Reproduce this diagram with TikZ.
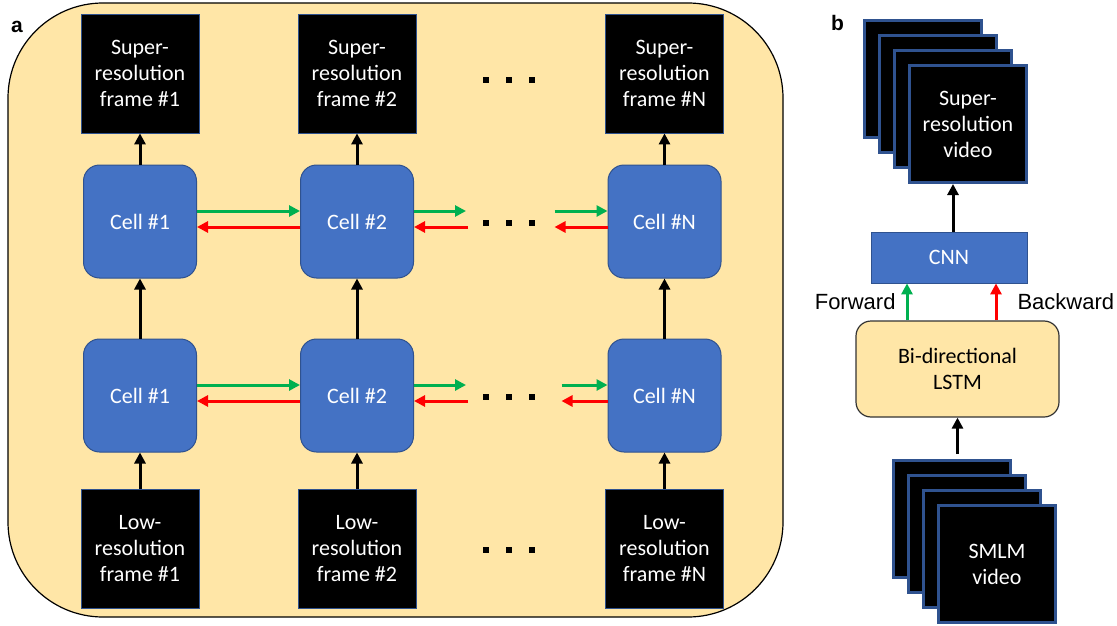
\documentclass[tikz,border=0pt]{standalone}
\usepackage{fontspec}
\setmainfont{Carlito}
\newfontfamily\arialfont{Liberation Sans}
\usetikzlibrary{arrows.meta,positioning}
\definecolor{panelyellow}{RGB}{255,230,167}
\definecolor{cellblue}{RGB}{68,114,196}
\definecolor{edgeblue}{RGB}{47,82,143}
\definecolor{fwdgreen}{RGB}{0,176,80}
\definecolor{bwdred}{RGB}{255,0,0}

\begin{document}
\begin{tikzpicture}[x=1pt,y=-1pt,
    txt/.style={font=\fontsize{22}{26}\selectfont},
    frameblk/.style={txt, fill=black, draw=edgeblue, line width=0.8pt, text=white, align=center,
        minimum width=118pt, minimum height=119pt, inner sep=0pt},
    cellbox/.style={txt, fill=cellblue, draw=edgeblue, line width=1pt, rounded corners=16pt,
        text=white, minimum size=113pt, inner sep=0pt},
    vidframe/.style={txt, fill=black, draw=edgeblue, line width=3pt, text=white, align=center,
        minimum size=117pt, inner sep=0pt},
    cnnbox/.style={txt, fill=cellblue, draw=edgeblue, line width=0.8pt, text=white,
        minimum width=156pt, minimum height=51pt, inner sep=0pt},
    lstmbox/.style={txt, fill=panelyellow, draw=black!80, line width=1.2pt, rounded corners=15pt,
        align=center, minimum width=203pt, minimum height=96pt, inner sep=0pt},
    uparrow/.style={-{Triangle[length=11pt,width=11pt]}, line width=3pt},
    fwd/.style={uparrow, fwdgreen},
    bwd/.style={uparrow, bwdred},
    sidelbl/.style={font=\arialfont\fontsize{22}{26}\selectfont, text=black, inner sep=0pt},
    panellbl/.style={font=\arialfont\bfseries\fontsize{21}{24}\selectfont, inner sep=0pt}]

    \useasboundingbox (0,0) rectangle (1117,626);

    \draw[fill=panelyellow, line width=1.2pt, rounded corners=95pt] (8,3) rectangle (783,617);
    \node[panellbl] (lbla) at (17,26.5) {a};

    \foreach \x/\n/\k in {140/1/1, 357/2/2, 664.5/N/3} {
        \node[frameblk] (t\k) at (\x,73.5) {Super-\\resolution\\frame \#\n};
        \node[cellbox] (u\k) at (\x,221.5) {Cell \#\n};
        \node[cellbox] (l\k) at (\x,395.5) {Cell \#\n};
        \node[frameblk] (b\k) at (\x,548.5) {Low-\\resolution\\frame \#\n};
        \draw[uparrow] (b\k) -- (l\k);
        \draw[uparrow] (l\k) -- (u\k);
        \draw[uparrow] (u\k) -- (t\k);
    }

    \foreach \r/\len in {u/53, l/46} {
        \draw[fwd] ([yshift=10.5pt]\r1.east) -- ([yshift=10.5pt]\r2.west);
        \draw[bwd] ([yshift=-5.5pt]\r2.west) -- ([yshift=-5.5pt]\r1.east);
        \coordinate (\r go) at ([xshift=52pt,yshift=10.5pt]\r2.east);
        \coordinate (\r back) at ([xshift=54pt,yshift=-5.5pt]\r2.east);
        \coordinate (\r in) at ([xshift=-\len pt,yshift=10.5pt]\r3.west);
        \coordinate (\r out) at ([xshift=-\len pt,yshift=-5.5pt]\r3.west);
        \draw[fwd] ([yshift=10.5pt]\r2.east) -- (\r go);
        \draw[bwd] (\r back) -- ([yshift=-5.5pt]\r2.east);
        \draw[fwd] (\r in) -- ([yshift=10.5pt]\r3.west);
        \draw[bwd] ([yshift=-5.5pt]\r3.west) -- (\r out);
    }

    \foreach \y in {80, 222.5, 396.5, 550}
        \foreach \x in {486, 509, 532}
            \fill (\x-3,\y-3) rectangle ++(6,6);

    \node[panellbl] (lblb) at (837.5,22.5) {b};
    \foreach \i in {1,2,3}
        \node[vidframe] (v\i) at ({908+15*\i},{64+15*\i}) {};
    \node[vidframe] (v4) at (968,124) {Super-\\resolution\\video};

    \node[cnnbox] (cnn) at (949,257.5) {CNN};
    \node[lstmbox] (lstm) at (957.5,369) {Bi-directional\\LSTM};

    \foreach \i in {1,2,3}
        \node[vidframe] (s\i) at ({937+15*\i},{504+15*\i}) {};
    \node[vidframe] (s4) at (997,564) {SMLM\\video};

    \draw[uparrow] ([xshift=4pt]cnn.north) -- ([xshift=4pt]cnn.north |- v4.south);
    \draw[fwd] ([xshift=-42pt]cnn.south |- lstm.north) -- ([xshift=-42pt]cnn.south)
        node[sidelbl, midway, left=10pt] {Forward};
    \draw[bwd] ([xshift=47pt]cnn.south |- lstm.north) -- ([xshift=47pt]cnn.south)
        node[sidelbl, midway, right=20pt] {Backward};
    \draw[uparrow] ([yshift=5pt]lstm.south |- s1.north) -- (lstm.south);
\end{tikzpicture}
\end{document}
